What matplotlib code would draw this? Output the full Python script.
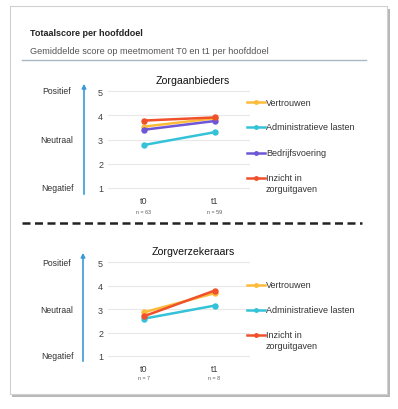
import matplotlib.pyplot as plt
from matplotlib.lines import Line2D
from matplotlib.patches import Rectangle, FancyArrowPatch

plt.rcParams['font.family'] = ['Liberation Sans', 'DejaVu Sans']

W, H = 398, 410

# Data
moments = ['t0', 't1']
n_aanbieders = ['n = 63', 'n = 59']
n_verzekeraars = ['n = 7', 'n = 8']
scale_labels = ['Positief', 'Neutraal', 'Negatief']

aanbieders = {
    'Vertrouwen': [3.53, 3.87],
    'Administratieve lasten': [2.77, 3.30],
    'Bedrijfsvoering': [3.40, 3.76],
    'Inzicht in\nzorguitgaven': [3.78, 3.91],
}
verzekeraars = {
    'Vertrouwen': [2.86, 3.68],
    'Administratieve lasten': [2.59, 3.15],
    'Inzicht in\nzorguitgaven': [2.69, 3.79],
}
colors = {
    'Vertrouwen': '#FDBB3A',
    'Administratieve lasten': '#33C2D8',
    'Bedrijfsvoering': '#6E57D6',
    'Inzicht in\nzorguitgaven': '#F0502A',
}


def fx(x):
    return x / W


def fy(y):
    return 1 - y / H


fig = plt.figure(figsize=(W / 100, H / 100), dpi=100)

# kaart met schaduw (onder de assen)
fig.patches.append(Rectangle((fx(12), fy(398)), fx(378), 388 / H, transform=fig.transFigure,
                             facecolor='#b8b8b8', edgecolor='none', zorder=-3))
fig.patches.append(Rectangle((fx(10), fy(395)), fx(377), 388 / H, transform=fig.transFigure,
                             facecolor='white', edgecolor='#d0d0d0', lw=0.8, zorder=-2))

# kop
fig.text(fx(30), fy(33), 'Totaalscore per hoofddoel', fontsize=6.5, fontweight='bold',
         color='#222222', va='center')
fig.text(fx(30), fy(51), 'Gemiddelde score op meetmoment T0 en t1 per hoofddoel', fontsize=6.6,
         color='#555555', va='center')
fig.lines.append(Line2D([fx(22), fx(366)], [fy(61), fy(61)], transform=fig.transFigure,
                        color='#a9b8c2', lw=1))

# scheidingslijn
fig.lines.append(Line2D([fx(22), fx(362)], [fy(224), fy(224)], transform=fig.transFigure,
                        color='#222222', lw=1.8, linestyle=(0, (3.2, 1.8))))


def draw_panel(top, bottom, title, series, n_labels, n_y, arrow, leg_y):
    # y: 5 op pixel top, 1 op pixel bottom
    unit = (bottom - top) / 4
    y0 = bottom + 0.25 * unit
    y1 = top - 0.2 * unit
    ax = fig.add_axes([fx(108), fy(y0), 142 / W, (y0 - y1) / H])
    ax.set_xlim(-0.5, 1.5)
    ax.set_ylim(0.75, 5.2)
    for name, vals in series.items():
        ax.plot([0, 1], vals, color=colors[name], lw=1.8, marker='o', markersize=3.6, zorder=3)
    ax.set_yticks([1, 2, 3, 4, 5])
    ax.set_xticks([0, 1])
    ax.set_xticklabels(moments)
    ax.grid(axis='y', color='#e8e8e8', lw=0.8)
    ax.set_axisbelow(True)
    for s in ax.spines.values():
        s.set_visible(False)
    ax.tick_params(length=0, labelsize=6.5, colors='#404040')
    ax.tick_params(axis='y', pad=3.5)
    ax.tick_params(axis='x', pad=1.5)
    for i, t in enumerate(n_labels):
        ax.text(i, (y0 - n_y) / (y0 - y1), t, transform=ax.get_xaxis_transform(), fontsize=3.8,
                color='#555555', ha='center', va='center')
    fig.text(fx(193), fy(top - 11), title, fontsize=7.6, ha='center', va='center', color='#111111')

    # pijl en schaal
    ax_x, a_bot, a_top = arrow
    fig.patches.append(FancyArrowPatch(
        (fx(ax_x), fy(a_bot)), (fx(ax_x), fy(a_top)), transform=fig.transFigure,
        arrowstyle='-|>', mutation_scale=6, color='#3b9ad6', lw=1.2))
    for lab, yv in zip(scale_labels, [5, 3, 1]):
        fig.text(fx(57), fy(bottom - (yv - 1) * unit), lab, fontsize=6.2, ha='center',
                 va='center', color='#333333')

    # legenda
    for name, ly in zip(series, leg_y):
        fig.lines.append(Line2D([fx(247), fx(265)], [fy(ly), fy(ly)], transform=fig.transFigure,
                                color=colors[name], lw=1.8))
        fig.lines.append(Line2D([fx(256)], [fy(ly)], transform=fig.transFigure,
                                color=colors[name], marker='o', markersize=2.5))
        fig.text(fx(266), fy(ly - 4.5) if '\n' in name else fy(ly), name, fontsize=6.5,
                 va='top' if '\n' in name else 'center', color='#333333', linespacing=1.25)


draw_panel(92, 189, 'Zorgaanbieders', aanbieders, n_aanbieders, 213, (84, 198, 82),
           [103, 128, 154, 179])
draw_panel(263.3, 357, 'Zorgverzekeraars', verzekeraars, n_verzekeraars, 379, (83, 365, 251),
           [286, 311, 336])

fig.savefig('out.png', dpi=100)
